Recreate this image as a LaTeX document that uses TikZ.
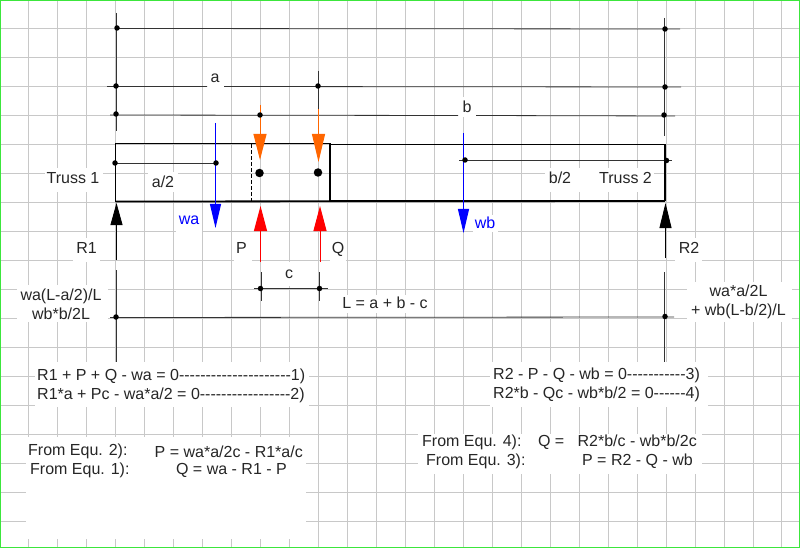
\documentclass[tikz,border=0pt]{standalone}
\usepackage{fontspec}
\setmainfont[Ligatures=TeXOff]{Liberation Sans}
\definecolor{gridgray}{RGB}{200,200,200}
\definecolor{forceorange}{RGB}{255,102,0}
\definecolor{forceblue}{RGB}{0,0,255}
\definecolor{edgegreen}{RGB}{60,230,60}
\usetikzlibrary{arrows.meta}
\tikzset{
    dimline/.style={draw=black!80, line width=0.8pt},
    pin/.style={fill=black, circle, inner sep=0pt, minimum size=5.5pt},
    hinge/.style={fill=black, circle, inner sep=0pt, minimum size=8.5pt},
    loadarrow/.style={line width=1pt, -{Triangle[length=25pt, width=13pt]}},
    txt/.style={font=\fontsize{16}{19}\selectfont, text=black!85, inner sep=0pt, align=center},
    mask/.style={fill=white, draw=none}
}
\begin{document}
\begin{tikzpicture}[x=1pt, y=-1pt]
    \useasboundingbox (0,0) rectangle (800,548);
    \fill[white] (0,0) rectangle (800,548);

    % Grid paper
    \foreach \x in {28.5, 57.5, 86.5, 115.5, 144.5, 173.5, 202, 231, 260, 289, 318, 347, 376, 405, 434, 463, 492, 521, 550, 579, 608, 637, 666, 695, 724, 753, 781.5}
        \draw[gridgray] (\x, 0) -- (\x, 548);
    \foreach \y in {28.5, 57.5, 86.5, 115, 144.5, 173, 202, 231, 260, 289, 318, 347, 376, 405, 434, 463, 492, 521}
        \draw[gridgray] (0, \y) -- (800, \y);

    % White patches behind the text
    \fill[mask] (35, 362) rectangle (309, 407);
    \fill[mask] (26, 437) rectangle (306, 539);
    \fill[mask] (490, 362) rectangle (708, 407);
    \fill[mask] (418, 434) rectangle (702, 474);
    \fill[mask] (17, 285) rectangle (108, 322);
    \fill[mask] (687, 282) rectangle (792, 322);
    \fill[mask] (45, 168) rectangle (103, 192);
    \fill[mask] (148, 172) rectangle (178, 192);
    \fill[mask] (176, 211) rectangle (202, 232);
    \fill[mask] (73, 238) rectangle (100, 262);
    \fill[mask] (234, 238) rectangle (252, 262);
    \fill[mask] (330, 238) rectangle (346, 262);
    \fill[mask] (265, 262) rectangle (297, 286);
    \fill[mask] (338, 295) rectangle (430, 313);
    \fill[mask] (207, 70) rectangle (224, 90);
    \fill[mask] (458, 97) rectangle (476, 117);
    \fill[mask] (545, 168) rectangle (654, 192);
    \fill[mask] (473, 215) rectangle (498, 232);
    \fill[mask] (675, 238) rectangle (702, 262);

    % Upper dimension lines
    \draw[dimline] (116.5, 13) -- (116.5, 131);
    \draw[dimline] (664.5, 18) -- (664.5, 136);
    \draw[dimline] (117, 28.5) -- (680, 29);
    \draw[dimline] (107, 86.5) -- (207, 86.5) (224, 86.5) -- (681, 87);
    \draw[dimline] (110, 115) -- (458, 115.5) (476, 115.5) -- (675, 116);
    \draw[dimline] (318, 71) -- (318, 110);

    % Trusses
    \draw[line width=1.3pt] (115.5, 143.5) rectangle (330, 201.5);
    \draw[line width=1.3pt] (330, 144.5) rectangle (665, 200.5);
    \draw[line width=1.8pt] (115.5, 201.5) -- (665, 201);
    \draw[line width=1pt, dash pattern=on 4pt off 2pt] (251.5, 144) -- (251.5, 203);
    \node[hinge] at (259.5, 173) {};
    \node[hinge] at (318, 172.5) {};

    % Half length lines
    \draw[dimline] (115, 163) -- (216, 163);
    \draw[dimline] (459, 160.5) -- (672, 160.5);

    % Loads
    \draw[loadarrow, forceorange, -{Triangle[length=26pt, width=13pt]}] (260, 105) -- (260, 160);
    \draw[loadarrow, forceorange, -{Triangle[length=28pt, width=13pt]}] (318.5, 109) -- (318.5, 162);
    \draw[forceblue, line width=1pt, -{Triangle[length=24pt, width=11pt]}] (215.5, 123) -- (215.5, 228);
    \draw[forceblue, line width=1pt, -{Triangle[length=24pt, width=11pt]}] (463.5, 133) -- (463.5, 233);
    \draw[loadarrow, red] (260.5, 262) -- (260.5, 206);
    \draw[loadarrow, red] (320, 262) -- (320, 206);
    \draw[dimline, -{Triangle[length=22pt, width=12pt]}, black] (116.5, 260) -- (116.5, 203);
    \draw[dimline, -{Triangle[length=25pt, width=12pt]}, black] (665.5, 258) -- (665.5, 203);

    % Lower dimension lines
    \draw[dimline] (116, 270) -- (116, 362);
    \draw[dimline] (664.5, 272) -- (664.5, 362);
    \draw[dimline] (261, 272) -- (261, 300.5);
    \draw[dimline] (319.5, 272) -- (319.5, 300.5);
    \draw[dimline] (254, 288.5) -- (328, 288.5);
    \draw[dimline] (110, 317.5) -- (674, 317);
    \foreach \x/\y in {117/28, 116/86, 116/114, 260/115, 318/86, 665/29, 665/87, 664/115, 115/163, 216/163, 465/160, 666.5/160.5, 260.5/288.5, 319.5/288.5, 116/317, 665/316.5}
        \node[pin] at (\x, \y) {};

    % Labels
    \node[txt] (lblA) at (215, 78) {a};
    \node[txt] (lblB) at (467, 107) {b};
    \node[txt] (lblTrussA) at (73, 178) {Truss 1};
    \node[txt] (lblHalfA) at (163, 182) {a/2};
    \node[txt] (lblHalfB) at (560, 178) {b/2};
    \node[txt] (lblTrussB) at (625.5, 178) {Truss 2};
    \node[txt, text=forceblue] (lblWa) at (189, 220) {wa};
    \node[txt, text=forceblue] (lblWb) at (485, 223) {wb};
    \node[txt] (lblRa) at (86.5, 248) {R1};
    \node[txt] (lblP) at (241.5, 248) {P};
    \node[txt] (lblQ) at (338, 249) {Q};
    \node[txt] (lblRb) at (689, 248) {R2};
    \node[txt] (lblC) at (289, 274) {c};
    \node[txt] (lblL) at (385, 303) {L = a + b - c};
    \node[txt] (lblRaLoad) at (61, 304) {wa(L-a/2)/L\\wb*b/2L};
    \node[txt] (lblRbLoad) at (738.5, 302) {wa*a/2L\\+ wb(L-b/2)/L};

    % Equations
    \node[txt, anchor=west] (eqOne) at (37, 376.5) {R1 + P + Q - wa = 0---------------------1)};
    \node[txt, anchor=west] (eqTwo) at (37, 395.5) {R1*a + Pc - wa*a/2 = 0-----------------2)};
    \node[txt, anchor=west] (eqThree) at (493, 375.5) {R2 - P - Q - wb = 0-----------3)};
    \node[txt, anchor=west] (eqFour) at (493, 394.5) {R2*b - Qc - wb*b/2 = 0------4)};
    \node[txt, anchor=west] (fromB) at (28, 451.5) {From Equ. 2):};
    \node[txt, anchor=west] (fromA) at (30, 470.5) {From Equ. 1):};
    \node[txt, anchor=east] (solP) at (303, 451.5) {P = wa*a/2c - R1*a/c};
    \node[txt, anchor=east] (solQ) at (287, 470.5) {Q = wa - R1 - P};
    \node[txt, anchor=west] (fromD) at (422, 442.5) {From Equ. 4):};
    \node[txt, anchor=west] (fromC) at (426, 461.5) {From Equ. 3):};
    \node[txt, anchor=east] (solQb) at (697, 442.5) {Q =\ \ \ R2*b/c - wb*b/2c};
    \node[txt, anchor=east] (solPb) at (693, 461.5) {P = R2 - Q - wb};

    % Outer frame
    \draw[edgegreen, line width=1.2pt] (0.6, 0.6) rectangle (799.4, 547.4);
\end{tikzpicture}
\end{document}
